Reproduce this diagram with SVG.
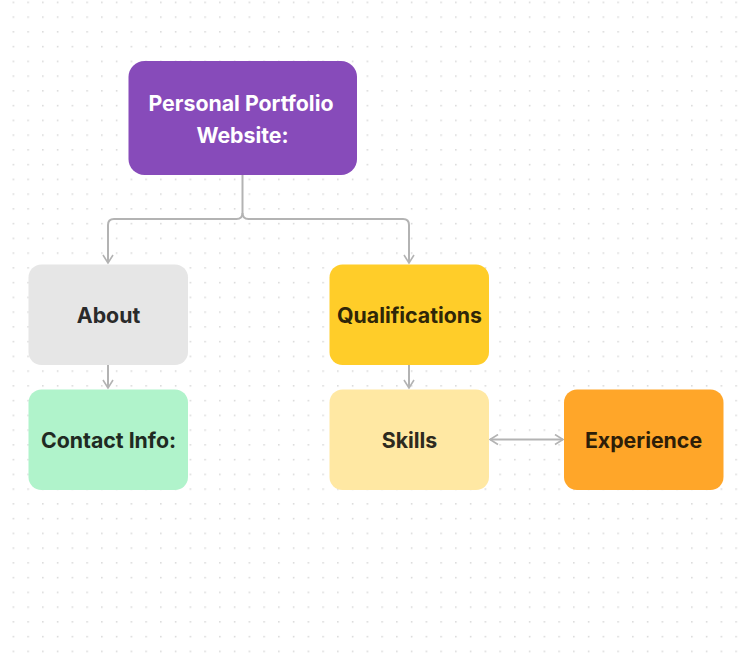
<svg xmlns="http://www.w3.org/2000/svg" width="745" height="653" viewBox="0 0 745 653">
<defs>
<pattern id="dots" x="12.6" y="1.6" width="14.75" height="14.75" patternUnits="userSpaceOnUse">
<rect x="0" y="0" width="1.5" height="1.5" fill="#d6d6d6"/>
</pattern>
<marker id="arr" viewBox="0 0 12 12" markerWidth="12" markerHeight="12" refX="10" refY="6" orient="auto-start-reverse" markerUnits="userSpaceOnUse">
<path d="M2,1 L10,6 L2,11" fill="none" stroke="#b3b3b3" stroke-width="1.6"/>
</marker>
<style>
.n{font-family:Inter,"Liberation Sans",sans-serif;font-weight:700;font-size:21.3px;text-anchor:middle}
.c{fill:none;stroke:#b3b3b3;stroke-width:2}
</style>
</defs>
<rect width="745" height="653" fill="#ffffff"/>
<rect width="745" height="653" fill="url(#dots)"/>
<g id="connectors">
<path class="c" d="M242.5,175 V213 Q242.5,219 236.5,219 H114 Q108,219 108,225 V263" marker-end="url(#arr)"/>
<path class="c" d="M242.5,213 Q242.5,219 248.5,219 H403 Q409,219 409,225 V263" marker-end="url(#arr)"/>
<path class="c" d="M108,365 V388" marker-end="url(#arr)"/>
<path class="c" d="M409,365 V388" marker-end="url(#arr)"/>
<path class="c" d="M490,439.5 H563" marker-start="url(#arr)" marker-end="url(#arr)"/>
</g>
<g id="portfolio">
<rect x="128.5" y="61" width="228.5" height="114" rx="16" fill="#874bba"/>
<text class="n" x="241" y="110.5" fill="#ffffff">Personal Portfolio</text>
<text class="n" x="242.5" y="142.5" fill="#ffffff">Website:</text>
</g>
<g id="about">
<rect x="28.5" y="264.5" width="159.5" height="100.5" rx="13" fill="#e6e6e6"/>
<text class="n" x="108.5" y="323" fill="#2a2a2a">About</text>
</g>
<g id="contact">
<rect x="28.5" y="389.5" width="159.5" height="100.5" rx="13" fill="#b0f3cb"/>
<text class="n" x="108.5" y="448" fill="#1f2a22">Contact Info:</text>
</g>
<g id="qualifications">
<rect x="329.5" y="264.5" width="159.5" height="100.5" rx="13" fill="#ffcd29"/>
<text class="n" x="409.5" y="323" fill="#2f2608">Qualifications</text>
</g>
<g id="skills">
<rect x="329.5" y="389.5" width="159.5" height="100.5" rx="13" fill="#ffe8a3"/>
<text class="n" x="409.5" y="448" fill="#2e2a1e">Skills</text>
</g>
<g id="experience">
<rect x="564" y="389.5" width="159.5" height="100.5" rx="13" fill="#ffa629"/>
<text class="n" x="643.5" y="448" fill="#2e1e08">Experience</text>
</g>
</svg>
